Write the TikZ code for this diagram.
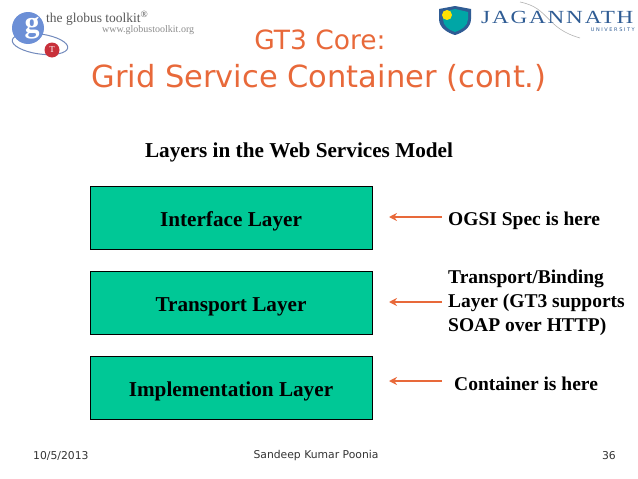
\documentclass[tikz,border=0pt]{standalone}
\usepackage{fontspec}
\setmainfont{Liberation Serif}
\setsansfont{DejaVu Sans}
\newfontfamily\jagfont[FakeStretch=1.25,LetterSpace=10]{Liberation Serif}
\usepackage{tikz}
\usetikzlibrary{arrows.meta,positioning,calc}
\definecolor{gridorange}{HTML}{E8693A}
\definecolor{layergreen}{HTML}{00C896}
\definecolor{footgray}{HTML}{333333}
\definecolor{globusblue}{HTML}{6C8FD6}
\definecolor{globusred}{HTML}{C8303A}
\definecolor{jagblue}{HTML}{2F5C94}
\tikzset{
  layerbox/.style={draw=black,fill=layergreen,line width=0.8pt,minimum width=282pt,minimum height=63pt,
    inner sep=0pt,text height=21pt,text depth=4pt,font=\fontsize{21.2}{24}\selectfont\bfseries},
  note/.style={font=\fontsize{19.5}{24}\selectfont\bfseries,align=left,anchor=west,inner sep=0pt},
  pointer/.style={-{Stealth[length=8pt,width=8pt]},gridorange,line width=2pt},
  foot/.style={font=\sffamily\fontsize{10.8}{13}\selectfont,text=footgray,inner sep=0pt},
  title/.style={font=\sffamily,text=gridorange,inner sep=0pt}
}
\begin{document}
\begin{tikzpicture}[x=1pt,y=-1pt]
\useasboundingbox (0,0) rectangle (638,479);
\node[title,font=\sffamily\fontsize{26.5}{30}\selectfont] (core) at (320,40) {GT3 Core:};
\node[title,font=\sffamily\fontsize{30.5}{34}\selectfont] (container) at (319,78) {Grid Service Container (cont.)};
\node[note,anchor=center,font=\fontsize{21.2}{24}\selectfont\bfseries] (model) at (299,152) {Layers in the Web Services Model};
\node[layerbox] (interface) at (231,217.5) {Interface Layer};
\node[layerbox] (transport) at (231,302.5) {Transport Layer};
\node[layerbox] (implementation) at (231,388) {Implementation Layer};
\node[note] (ogsi) at (448,221) {OGSI Spec is here};
\node[note] (binding) at (448,303) {Transport/Binding\\Layer (GT3 supports\\SOAP over HTTP)};
\node[note] (here) at (454,384) {Container is here};
\coordinate (ogsistart) at (442,217);
\coordinate (ogsiend) at (389,217);
\coordinate (bindingstart) at (442,302);
\coordinate (bindingend) at (389,302);
\coordinate (herestart) at (442,381);
\coordinate (hereend) at (389,381);
\draw[pointer] (ogsistart)--(ogsiend);
\draw[pointer] (bindingstart)--(bindingend);
\draw[pointer] (herestart)--(hereend);
\node[foot,anchor=west] (date) at (33,456) {10/5/2013};
\node[foot] (author) at (316,456) {Sandeep Kumar Poonia};
\node[foot,anchor=east] (page) at (616,456) {36};
% globus logo
\draw[globusblue!70!gray,line width=1pt,rotate around={-8:(40,44)}] (40,44) ellipse[x radius=28pt,y radius=10pt];
\fill[globusblue] (28,28) circle[radius=16pt];
\node[font=\bfseries\fontsize{30}{30}\selectfont,text=white,inner sep=0pt] (glyph) at (32,28) {g};
\fill[globusred] (52,50) circle[radius=7.5pt];
\node[font=\fontsize{9}{9}\selectfont,text=white,inner sep=0pt] (tglyph) at (52,50) {T};
\node[font=\fontsize{13.5}{14}\selectfont,text=black!65,anchor=west,inner sep=0pt] (globus) at (46,18) {the globus toolkit\textsuperscript{®}};
\node[font=\fontsize{10}{10}\selectfont,text=black!45,anchor=west,inner sep=0pt] (url) at (102,30) {www.globustoolkit.org};
% university logo
\fill[jagblue] (439,9)--(455,6)--(471,9)--(471,19) .. controls (471,28) and (462,33) .. (455,35) .. controls (448,33) and (439,28) .. (439,19)--cycle;
\fill[teal!70!cyan] (443,12)--(455,9)--(468,12)--(468,19) .. controls (468,26) and (461,30) .. (455,32) .. controls (449,30) and (443,26) .. (443,19)--cycle;
\fill[yellow!85!orange] (447,15) circle[radius=5pt];
\draw[black!30,line width=0.6pt] (520,2) .. controls (550,8) and (545,28) .. (580,38);
\node[font=\jagfont\fontsize{18.5}{20}\selectfont,text=jagblue,anchor=west,inner sep=0pt] (jagannath) at (481,17) {JAGANNATH};
\node[font=\sffamily\fontsize{5}{6}\selectfont,text=jagblue,anchor=east,inner sep=0pt] (university) at (635,29.5) {U N I V E R S I T Y};
\end{tikzpicture}
\end{document}
